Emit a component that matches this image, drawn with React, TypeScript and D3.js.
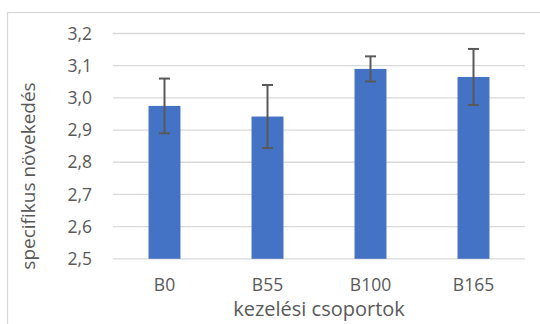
import React from "react";
import * as d3 from "d3";

const categories = ["B0", "B55", "B100", "B165"];
const values = [2.975, 2.942, 3.09, 3.065];
const errors = [0.085, 0.098, 0.039, 0.087];
const yTicks = [2.5, 2.6, 2.7, 2.8, 2.9, 3.0, 3.1, 3.2];

const W = 540;
const H = 324;
const FONT = "'Open Sans', sans-serif";

export default function App() {
  const x = d3
    .scaleBand<string>()
    .domain(categories)
    .range([113, 525])
    .paddingInner(0.69)
    .paddingOuter(0.345);
  const y = d3.scaleLinear().domain([2.5, 3.2]).range([258.8, 33.5]);
  const fmt = (v: number) => d3.format(".1f")(v).replace(".", ",");
  const cap = 5.5;

  return (
    <svg
      width={W}
      height={H}
      style={{ position: "absolute", left: 0, top: 0, background: "#fff" }}
      fontFamily={FONT}
    >
      <rect x={7.5} y={12.5} width={W + 10} height={H + 10} fill="#fff" stroke="#d9d9d9" strokeWidth={1.3} />
      {yTicks.map((t) => (
        <g key={t}>
          <line x1={113} x2={525} y1={y(t)} y2={y(t)} stroke="#d9d9d9" strokeWidth={1.3} />
          <text x={92} y={y(t)} dy="0.35em" textAnchor="end" fontSize={17.5} fill="#595959">
            {fmt(t)}
          </text>
        </g>
      ))}
      {categories.map((c, i) => {
        const cx = (x(c) as number) + x.bandwidth() / 2;
        return (
          <g key={c}>
            <rect
              x={x(c)}
              y={y(values[i])}
              width={x.bandwidth()}
              height={y(2.5) - y(values[i])}
              fill="#4472c4"
            />
            <g stroke="#595959" strokeWidth={2}>
              <line x1={cx} x2={cx} y1={y(values[i] + errors[i])} y2={y(values[i] - errors[i])} />
              <line x1={cx - cap} x2={cx + cap} y1={y(values[i] + errors[i])} y2={y(values[i] + errors[i])} />
              <line x1={cx - cap} x2={cx + cap} y1={y(values[i] - errors[i])} y2={y(values[i] - errors[i])} />
            </g>
            <text x={cx} y={291} textAnchor="middle" fontSize={17.5} fill="#595959">
              {c}
            </text>
          </g>
        );
      })}
      <text x={319} y={316} textAnchor="middle" fontSize={20} fill="#595959">
        kezelési csoportok
      </text>
      <text
        transform={`translate(35,176) rotate(-90)`}
        textAnchor="middle"
        fontSize={19}
        fill="#595959"
      >
        specifikus növekedés
      </text>
    </svg>
  );
}
